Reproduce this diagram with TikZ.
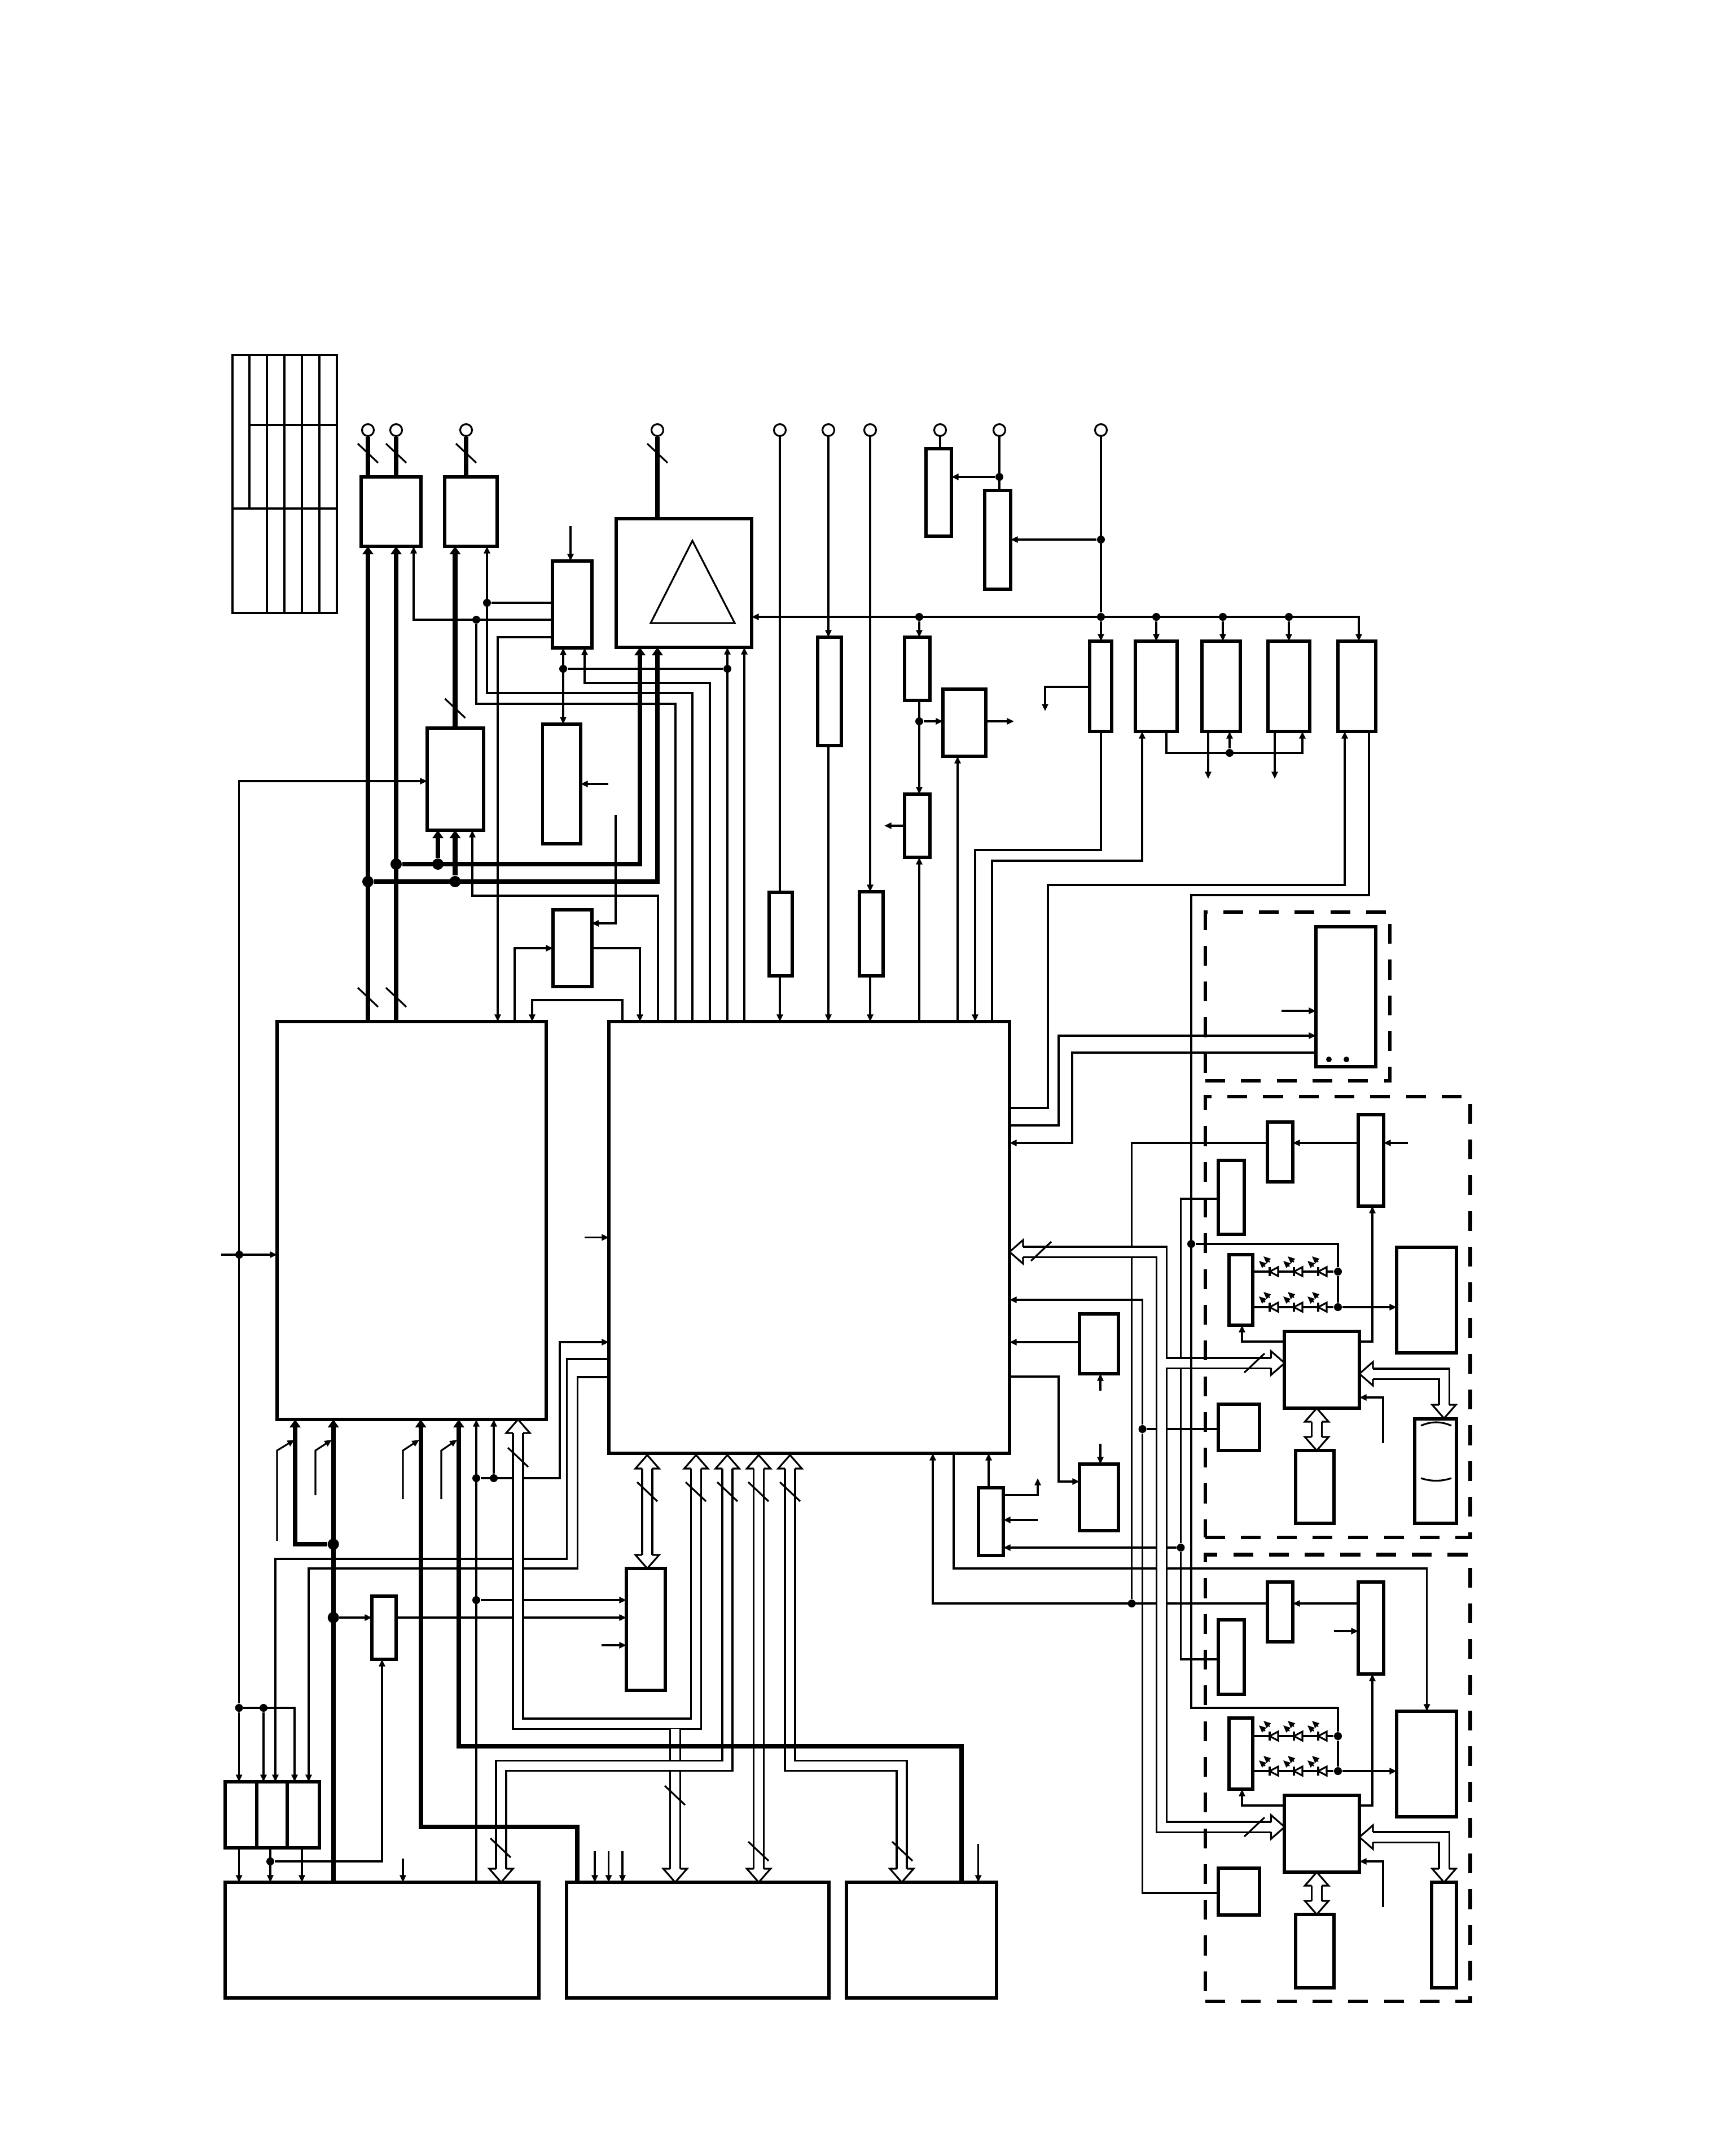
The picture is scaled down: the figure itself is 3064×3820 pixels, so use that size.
\documentclass[tikz,border=0pt]{standalone}
\usetikzlibrary{arrows.meta}
\tikzset{
  blk/.style={draw,line width=1.7pt,inner sep=0pt,outer sep=0pt},
  dashbox/.style={draw,line width=1.75pt,dash pattern=on 10pt off 8pt,inner sep=0pt,outer sep=0pt},
  sig/.style={line width=.9pt},
  bus/.style={line width=2.3pt,>={Triangle[length=4pt,width=5.4pt]}},
  hbus/.style={line width=.9pt,double,double distance=4.25pt},
  hhead/.style={line width=.9pt,fill=white},
  cut/.style={line width=.9pt},
  dot/.style={circle,fill=black,inner sep=0pt,minimum size=.14cm},
  bigdot/.style={circle,fill=black,inner sep=0pt,minimum size=.2cm},
  term/.style={circle,draw,fill=white,line width=.9pt,inner sep=0pt,minimum size=.21cm}
}
% box given by its corners
\newcommand{\blk}[6][blk]{\node[#1,minimum width={(#5-#3)*0.01cm},minimum height={(#6-#4)*0.01cm}] (#2) at ({(#3+#5)/2},{(#4+#6)/2}) {};}
% hollow bus head, the coordinate sits at its back
\newcommand{\bustip}[4]{\begin{scope}[shift={(#2,#3)},rotate=#4]
  \coordinate (#1) at (24,0);
  \draw[hhead] (24,-9) -- (24,-21) -- (0,0) -- (24,21) -- (24,9);
\end{scope}}
% width marks across a bus
\newcommand{\cutd}[2]{\draw[cut] (#1-18,#2-17) -- (#1+18,#2+17);}
\newcommand{\cutu}[2]{\draw[cut] (#1-18,#2+17) -- (#1+18,#2-17);}
% diode with its two rays
\newcommand{\led}[2]{\begin{scope}[shift={(#1,#2)}]
  \draw[hhead] (7,-8) -- (-8,0) -- (7,8) -- cycle;
  \draw[line width=1.1pt] (-8,-8) -- (-8,8);
  \draw[line width=.6pt,->] (-16,-9) -- (-27,-19);
  \draw[line width=.6pt,->] (-8,-17) -- (-19,-27);
\end{scope}}
\begin{document}
\begin{tikzpicture}[x=0.01cm,y=-0.01cm,>={Triangle[length=3.6pt,width=3.1pt]}]
  \useasboundingbox (0,0) rectangle (3064,3820);

  % Table
  \draw[sig] (412,629) rectangle (597,1086);
  \draw[sig] (442,629) -- (442,901);
  \draw[sig] (504,629) -- (504,1086);
  \draw[sig] (535,629) -- (535,1086);
  \draw[sig] (566,629) -- (566,1086);
  \draw[sig] (442,753) -- (597,753);
  \draw[line width=1.3pt] (473,629) -- (473,1086);
  \draw[line width=1.3pt] (412,901) -- (597,901);

  % Main blocks
  \blk{mainL}{491}{1810}{968}{2515}
  \blk{mainR}{1079}{1810}{1789}{2575}
  \blk{lowL}{399}{3335}{955}{3540}
  \blk{lowM}{1004}{3335}{1469}{3540}
  \blk{lowR}{1500}{3335}{1766}{3540}

  % Upper row
  \blk{topA}{640}{845}{746}{968}
  \blk{topB}{788}{845}{881}{968}
  \blk{ampT}{1092}{919}{1332}{1147}
  \blk{blkC}{979}{994}{1049}{1148}
  \blk{blkD}{757}{1290}{857}{1471}
  \blk{blkE}{961.5}{1283}{1029}{1495}
  \blk{blkF}{980}{1612}{1048.5}{1748}
  \blk{regA}{1363}{1581}{1404}{1729}
  \blk{regB}{1449}{1129}{1491}{1321}
  \blk{regC}{1523}{1580}{1565}{1729}
  \blk{regD}{1603}{1129}{1648}{1241}
  \blk{regE}{1671}{1221}{1747}{1340}
  \blk{regF}{1603}{1407}{1648}{1519}
  \blk{regG}{1641}{795}{1686}{950}
  \blk{regH}{1745}{869}{1791}{1044}
  \blk{regI}{1931}{1136}{1970}{1296}
  \blk{regJ}{2012}{1136}{2086}{1296}
  \blk{regK}{2130}{1136}{2198}{1296}
  \blk{regL}{2247}{1136}{2321}{1296}
  \blk{regM}{2371}{1136}{2438}{1296}

  % Lower left and middle
  \blk{smA}{399}{3157}{455}{3274}
  \blk{smB}{455}{3157}{509}{3274}
  \blk{smC}{509}{3157}{566}{3274}
  \blk{blkAF}{659}{2828}{702}{2940}
  \blk{blkAG}{1110}{2779}{1179}{2995}
  \blk{regX}{1733.6}{2636}{1778}{2756}
  \blk{regY}{1913}{2328}{1982}{2434}
  \blk{regZ}{1913}{2594}{1982}{2712}

  % Right hand groups
  \blk{disp}{2332}{1642}{2438}{1890}
  \blk{pT}{2246}{1988}{2291}{2094}
  \blk{pU}{2407}{1975}{2452}{2137}
  \blk{pV}{2159}{2056}{2205}{2187}
  \blk{pLed}{2178}{2223}{2220}{2348}
  \blk{pW}{2276}{2359}{2409}{2495}
  \blk{pY}{2475}{2210}{2581}{2397}
  \blk{pAA}{2159}{2488}{2232}{2570}
  \blk{pZ}{2296}{2570}{2364}{2699}
  \blk{pCell}{2507}{2514}{2581}{2699}
  \blk{qT}{2246}{2803}{2291}{2909}
  \blk{qU}{2407}{2803}{2452}{2966}
  \blk{qV}{2159}{2870}{2205}{3002}
  \blk{qLed}{2178}{3044}{2220}{3170}
  \blk{qW}{2276}{3181}{2409}{3317}
  \blk{qY}{2475}{3032}{2581}{3219}
  \blk{qAA}{2159}{3310}{2232}{3393}
  \blk{qZ}{2296}{3392}{2364}{3522}
  \blk{qCell}{2537}{3335}{2581}{3522}

  % Junctions
  \node[dot] (dA) at (844,1098) {};
  \node[dot] (dB) at (863,1068) {};
  \node[dot] (dE) at (998,1185) {};
  \node[dot] (dG) at (1289,1185) {};
  \node[dot] (dK) at (423.6,3026) {};
  \node[dot] (dKb) at (467,3026) {};
  \node[dot] (dL) at (424,2223) {};
  \node[dot] (dN) at (1629,1093) {};
  \node[dot] (dO) at (1951,1093) {};
  \node[dot] (dOb) at (2049,1093) {};
  \node[dot] (dOc) at (2167,1093) {};
  \node[dot] (dOd) at (2284,1093) {};
  \node[dot] (dTop) at (1771,845) {};
  \node[dot] (dMid) at (1951,956) {};
  \node[dot] (dRe) at (1629,1278) {};
  \node[dot] (dJ) at (2179,1334) {};
  \node[dot] (dU) at (844,2619) {};
  \node[dot] (dV) at (875,2619) {};
  \node[dot] (dW) at (844,2835) {};
  \node[dot] (dY) at (479,3298) {};
  \node[dot] (dPa) at (2371,2253) {};
  \node[dot] (dPb) at (2371,2316) {};
  \node[dot] (dPc) at (2111,2204) {};
  \node[dot] (dQa) at (2371,3076) {};
  \node[dot] (dQb) at (2371,3138) {};
  \node[dot] (dQ) at (2005.6,2841) {};
  \node[dot] (dR) at (2092.5,2742) {};
  \node[dot] (dS) at (2024.5,2532) {};
  \node[bigdot] (dTa) at (702,1531) {};
  \node[bigdot] (dTb) at (652,1562) {};
  \node[bigdot] (dTc) at (776,1531) {};
  \node[bigdot] (dTd) at (806.5,1562) {};
  \node[bigdot] (dMa) at (590.7,2736) {};
  \node[bigdot] (dX) at (590.7,2866) {};

  % Free ends
  \coordinate (inC) at (1011,932);
  \coordinate (inE) at (1078,1389);
  \coordinate (inF) at (1091,1444);
  \coordinate (outE) at (1797,1278);
  \coordinate (outF) at (1567,1463);
  \coordinate (outI) at (1852,1260);
  \coordinate (inS) at (2271,1791);
  \coordinate (inL) at (392,2223);
  \coordinate (inM) at (1035.6,2192.5);
  \coordinate (inAG) at (1066,2915);
  \coordinate (inLow) at (714,3293);
  \coordinate (inPU) at (2495,2025);
  \coordinate (inQU) at (2364,2890);
  \coordinate (inPW) at (2451,2557);
  \coordinate (inQW) at (2451,3379);
  \coordinate (inYt) at (1950,2464);
  \coordinate (inZt) at (1950,2558);
  \coordinate (inX) at (1839,2693);
  \coordinate (outX) at (1839,2619);

  % Connections of the upper left blocks
  \draw[sig,->] (inC) -- (blkC.north -| inC);
  \draw[sig] (blkC.west |- dB) -- (dB);
  \draw[sig,->] (blkC.west |- dA) -| (topA.south -| 733,0);
  \draw[sig] (dA) |- (1197,1247) -- (mainR.north -| 1197,0);
  \draw[sig,->] (mainR.north -| 1227,0) |- (863,1228) -- (topB.south -| 863,0);
  \draw[sig,->] (blkC.west |- 0,1129) -| (mainL.north -| 882,0);
  \draw[sig,<->] (blkC.south -| dE) -- (blkE.north -| dE);
  \draw[sig] (dE) -- (dG);
  \draw[sig,->] (mainR.north -| dG) -- (ampT.south -| dG);
  \draw[sig,->] (mainR.north -| 1258,0) |- (1036,1210) -- (blkC.south -| 1036,0);
  \draw[sig,->] (mainR.north -| 1319,0) -- (ampT.south -| 1319,0);
  \draw[sig,->] (inE) -- (blkE.east |- inE);
  \draw[sig,->] (inF) |- (blkF.east |- 0,1636);
  \draw[sig,->] (blkF.east |- 0,1680) -| (mainR.north -| 1134,0);
  \draw[sig,->] (mainL.north -| 912,0) |- (blkF.west |- 0,1680);
  \draw[sig,->] (mainR.north -| 1103,0) |- (943,1772) -- (mainL.north -| 943,0);
  \draw[sig,->] (mainR.north -| 1166,0) |- (837,1587) -- (blkD.south -| 837,0);
  \draw[sig,->] (dK) |- (blkD.west |- 0,1384);
  \draw[sig,->] (inL) -- (mainL.west |- inL);
  \draw[sig,->] (inM) -- (mainR.west |- inM);

  % Terminals and the long verticals
  \node[term] (tA) at (652,762) {};
  \node[term] (tB) at (702,762) {};
  \node[term] (tC) at (826,762) {};
  \node[term] (tD) at (1165,762) {};
  \node[term] (tE) at (1382,762) {};
  \node[term] (tF) at (1468,762) {};
  \node[term] (tG) at (1542,762) {};
  \node[term] (tH) at (1666,762) {};
  \node[term] (tI) at (1771,762) {};
  \node[term] (tJ) at (1951,762) {};
  \draw[sig] (tE) -- (regA.north -| tE);
  \draw[sig,->] (regA.south -| tE) -- (mainR.north -| tE);
  \draw[sig,->] (tF) -- (regB.north -| tF);
  \draw[sig,->] (regB.south -| tF) -- (mainR.north -| tF);
  \draw[sig,->] (tG) -- (regC.north -| tG);
  \draw[sig,->] (regC.south -| tG) -- (mainR.north -| tG);
  \draw[sig] (tH) -- (regG.north -| tH);
  \draw[sig] (tI) -- (regH.north -| tI);
  \draw[sig,->] (dTop) -- (regG.east |- dTop);
  \draw[sig] (tJ) -- (dO);
  \draw[sig,->] (dMid) -- (regH.east |- dMid);

  % Distribution line along the upper row
  \draw[sig,<->] (regM.north -| 2408,0) |- (ampT.east |- 0,1093);
  \draw[sig,->] (dN) -- (regD.north -| dN);
  \draw[sig,->] (dO) -- (regI.north -| dO);
  \draw[sig,->] (dOb) -- (regJ.north -| dOb);
  \draw[sig,->] (dOc) -- (regK.north -| dOc);
  \draw[sig,->] (dOd) -- (regL.north -| dOd);
  \draw[sig,->] (regD.south -| dN) -- (regF.north -| dN);
  \draw[sig,->] (dRe) -- (regE.west |- dRe);
  \draw[sig,->] (regE.east |- outE) -- (outE);
  \draw[sig,->] (regF.west |- outF) -- (outF);
  \draw[sig,->] (mainR.north -| 1629,0) -- (regF.south -| 1629,0);
  \draw[sig,->] (mainR.north -| 1697,0) -- (regE.south -| 1697,0);
  \draw[sig,->] (regI.west |- 0,1217) -| (outI);
  \draw[sig,->] (regI.south -| dO) |- (1728,1506) -- (mainR.north -| 1728,0);
  \draw[sig,->] (mainR.north -| 1758,0) |- (2024,1525) -- (regJ.south -| 2024,0);
  \draw[sig,->] (regJ.south -| 2067,0) |- (2308,1334) -- (regL.south -| 2308,0);
  \draw[sig,->] (dJ) -- (regK.south -| dJ);
  \draw[sig,->] (regK.south -| 2141,0) -- (2141,1380);
  \draw[sig,->] (regL.south -| 2259,0) -- (2259,1380);
  \draw[sig,->] (mainR.east |- 0,1963) -| (1857,1568) -| (regM.south -| 2383,0);

  % Display group
  \draw[sig,->] (inS) -- (disp.west |- inS);
  \draw[sig,->] (mainR.east |- 0,1994) -| (1876,1835) -- (disp.west |- 0,1835);
  \draw[sig,->] (disp.west |- 0,1865) -| (1900,2025) -- (mainR.east |- 0,2025);
  \fill (2355,1877) circle (5);
  \fill (2386,1877) circle (5);

  % Middle right signals
  \draw[sig,->] (inPU) -- (pU.east |- inPU);
  \draw[sig,->] (pU.west |- inPU) -- (pT.east |- inPU);
  \draw[sig] (pT.west |- inPU) -| (dQ);
  \draw[sig,->] (pW.east |- 0,2377) -| (pU.south -| 2432,0);
  \draw[sig,->] (pW.west |- 0,2377) -| (pLed.south -| 2201,0);
  \draw[sig] (pLed.east |- dPa) -- (dPa);
  \draw[sig] (pLed.east |- dPb) -- (dPb);
  \draw[sig] (dPa) -- (dPb);
  \draw[sig,->] (dPb) -- (pY.west |- dPb);
  \draw[sig] (pV.west |- 0,2124) -| (dR);
  \draw[sig] (dR) |- (qV.west |- 0,2940);
  \draw[sig,->] (dR) -- (regX.east |- dR);
  \draw[sig] (pAA.west |- dS) -- (dS);
  \draw[sig,->] (qAA.west |- 0,3354) -| (dS) |- (mainR.east |- 0,2303);
  \draw[sig,->] (inPW) |- (pW.east |- 0,2476);

  % Lower right signals
  \draw[sig,->] (qU.west |- dQ) -- (qT.east |- dQ);
  \draw[sig,->] (qT.west |- dQ) -| (mainR.south -| 1653,0);
  \draw[sig,->] (inQU) -- (qU.west |- inQU);
  \draw[sig,->] (qW.east |- 0,3199) -| (qU.south -| 2432,0);
  \draw[sig,->] (qW.west |- 0,3199) -| (qLed.south -| 2201,0);
  \draw[sig] (qLed.east |- dQa) -- (dQa);
  \draw[sig] (qLed.east |- dQb) -- (dQb);
  \draw[sig] (dQa) -- (dQb);
  \draw[sig,->] (dQb) -- (qY.west |- dQb);
  \draw[sig,->] (mainR.south -| 1690,0) |- (2528.6,2779) -- (qY.north -| 2528.6,0);
  \draw[sig,->] (inQW) |- (qW.east |- 0,3298);

  % Blocks under the main one
  \draw[sig,->] (regY.west |- 0,2378) -- (mainR.east |- 0,2378);
  \draw[sig,->] (inYt) -- (regY.south -| inYt);
  \draw[sig,->] (inZt) -- (regZ.north -| inZt);
  \draw[sig,->] (mainR.east |- 0,2439) -| (1876,2625) -- (regZ.west |- 0,2625);
  \draw[sig,->] (regX.north -| 1752,0) -- (mainR.south -| 1752,0);
  \draw[sig,->] (regX.east |- outX) ++(0,30) -| (outX);
  \draw[sig,->] (inX) -- (regX.east |- inX);

  % Left of the lower row
  \draw[sig,->] (lowL.north -| dU) -- (mainL.south -| dU);
  \draw[sig,->] (dV) -- (mainL.south -| dV);
  \draw[sig,->] (dU) -| (992,2378) -- (mainR.west |- 0,2378);
  \draw[sig,->] (dW) -- (blkAG.west |- dW);
  \draw[sig,->] (blkAF.east |- dX) -- (blkAG.west |- dX);
  \draw[sig,->] (dX) -- (blkAF.west |- dX);
  \draw[sig,->] (dY) -| (blkAF.south -| 677,0);
  \draw[sig,->] (inAG) -- (blkAG.west |- inAG);
  \draw[sig,->] (mainR.west |- 0,2408) -| (1004.5,2762) -| (smB.north -| 488,0);
  \draw[sig,->] (mainR.west |- 0,2440) -| (1023.5,2779) -| (smC.north -| 547,0);
  \draw[sig,->] (dK) -- (smA.north -| dK);
  \draw[sig,->] (dK) -| (smC.north -| 522,0);
  \draw[sig,->] (dKb) -- (smB.north -| dKb);
  \draw[sig,->] (smA.south -| dK) -- (lowL.north -| dK);
  \draw[sig,->] (smB.south -| dY) -- (lowL.north -| dY);
  \draw[sig,->] (smC.south -| 535,0) -- (lowL.north -| 535,0);
  \draw[sig,->] (inLow) -- (lowL.north -| inLow);
  \draw[sig,->] (1054,3280) -- (lowM.north -| 1054,0);
  \draw[sig,->] (1078.6,3280) -- (lowM.north -| 1078.6,0);
  \draw[sig,->] (1103,3280) -- (lowM.north -| 1103,0);
  \draw[sig,->] (1733.6,3267) -- (lowR.north -| 1733.6,0);

  % Slanted inputs at the thick lines
  \draw[sig,->] (491,2730) -- (491,2570) -- (522,2551);
  \draw[sig,->] (559,2649) -- (559,2570) -- (588,2551);
  \draw[sig,->] (714,2656) -- (714,2570) -- (743,2551);
  \draw[sig,->] (782,2656) -- (782,2570) -- (810,2551);

  % Hollow buses
  \bustip{hA}{918}{2515}{-90}
  \bustip{hB}{1233.5}{2578}{-90}
  \bustip{hC}{1196.5}{3335}{90}
  \draw[hbus] (hA) |- (1233.5,3054) -- (hB);
  \draw[hbus] (1196.5,3063) -- (hC);
  \bustip{hD}{1147}{2578}{-90}
  \bustip{hE}{1147}{2779}{90}
  \draw[hbus] (hD) -- (hE);
  \bustip{hF}{1289}{2578}{-90}
  \bustip{hG}{888}{3335}{90}
  \draw[hbus] (hF) |- (888,3128.5) -- (hG);
  \bustip{hH}{1344.5}{2578}{-90}
  \bustip{hI}{1344.5}{3335}{90}
  \draw[hbus] (hH) -- (hI);
  \bustip{hJ}{1400}{2578}{-90}
  \bustip{hK}{1598}{3335}{90}
  \draw[hbus] (hJ) |- (1598,3128.5) -- (hK);
  \bustip{hL}{1789}{2218}{0}
  \bustip{hM}{2276.5}{3237}{180}
  \draw[hbus] (hL) -| (2058.5,3237) -- (hM);
  \bustip{hN}{2276.5}{2415}{180}
  \draw[hbus] (2066,2415) -- (hN);
  \bustip{hO}{2409}{2434}{0}
  \bustip{hP}{2559}{2513}{90}
  \draw[hbus] (hO) -| (hP);
  \bustip{hQ}{2333.4}{2495}{-90}
  \bustip{hR}{2333.4}{2570}{90}
  \draw[hbus] (hQ) -- (hR);
  \bustip{hS}{2409}{3255}{0}
  \bustip{hT}{2559}{3335}{90}
  \draw[hbus] (hS) -| (hT);
  \bustip{hU}{2333.4}{3317}{-90}
  \bustip{hV}{2333.4}{3392}{90}
  \draw[hbus] (hU) -- (hV);

  % Supply line on top of the right buses
  \draw[sig] (regM.south -| 2426,0) |- (2111,1586) -- (2111,3026) -| (dQa);
  \draw[sig] (dPc) -| (dPa);

  % Thick lines
  \draw[bus,->] (mainL.north -| tA) -- (topA.south -| tA);
  \draw[bus,->] (mainL.north -| tB) -- (topA.south -| tB);
  \draw[bus] (tA) -- (topA.north -| tA);
  \draw[bus] (tB) -- (topA.north -| tB);
  \draw[bus] (tC) -- (topB.north -| tC);
  \draw[bus] (tD) -- (ampT.north -| tD);
  \draw[bus,->] (blkD.north -| dTd) -- (topB.south -| dTd);
  \draw[bus,->] (dTa) -| (ampT.south -| 1134,0);
  \draw[bus,->] (dTb) -| (ampT.south -| tD);
  \draw[bus,->] (dTc) -- (blkD.south -| dTc);
  \draw[bus,->] (dTd) -- (blkD.south -| dTd);
  \draw[bus,->] (dMa) -| (mainL.south -| 523,0);
  \draw[bus,->] (lowL.north -| dMa) -- (mainL.south -| dMa);
  \draw[bus,->] (lowM.north -| 1023,0) |- (745.6,3236.6) -- (mainL.south -| 745.6,0);
  \draw[bus,->] (lowR.north -| 1704,0) |- (813,3094) -- (mainL.south -| 813,0);

  % Width marks
  \cutd{652}{803} \cutd{702}{803} \cutd{826}{803} \cutd{1165}{803}
  \cutd{806.5}{1255} \cutd{652}{1767} \cutd{702}{1767} \cutd{918}{2582}
  \cutd{1147}{2643} \cutd{1233}{2643} \cutd{1289}{2643} \cutd{1344}{2643} \cutd{1400}{2643}
  \cutd{1196}{3181} \cutd{887}{3274} \cutd{1344}{3280} \cutd{1599}{3280}
  \cutu{1845}{2217} \cutu{2223}{2415} \cutu{2223}{3237}

  % Triangle symbol and cell outline
  \draw[sig] (1227,958) -- (1302,1104) -- (1153,1104) -- cycle;
  \draw[sig] (2518,2526) .. controls (2536,2518) and (2554,2518) .. (2572,2526);
  \draw[sig] (2518,2619) .. controls (2536,2625) and (2554,2625) .. (2572,2619);

  % Diodes
  \led{2258}{2253} \led{2301}{2253} \led{2344}{2253}
  \led{2258}{2316} \led{2301}{2316} \led{2344}{2316}
  \led{2258}{3076} \led{2301}{3076} \led{2344}{3076}
  \led{2258}{3138} \led{2301}{3138} \led{2344}{3138}

  % Dashed groups
  \blk[dashbox]{grpS}{2136}{1616}{2463}{1915}
  \blk[dashbox]{grpP}{2136}{1943}{2605.5}{2724}
  \blk[dashbox]{grpQ}{2136}{2754.5}{2605.5}{3546}
\end{tikzpicture}
\end{document}
